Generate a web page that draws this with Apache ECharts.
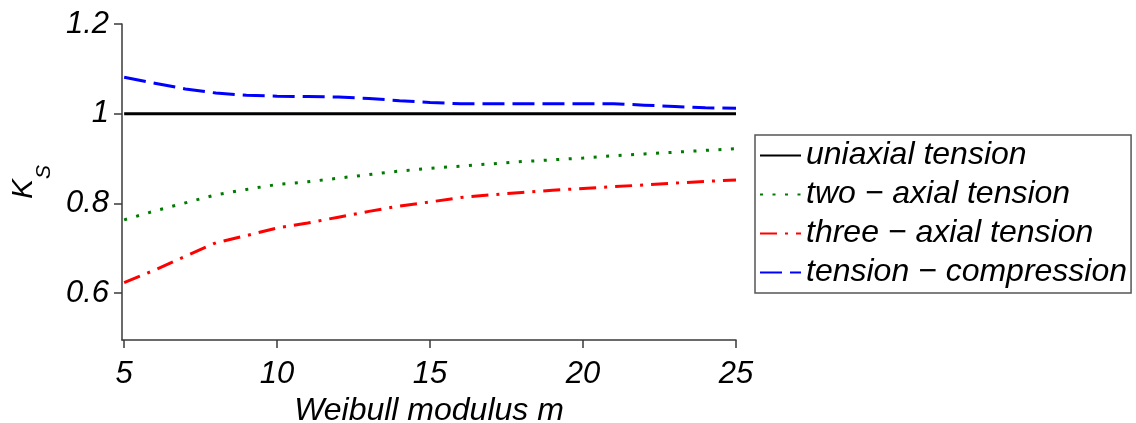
<!DOCTYPE html>
<html>
<head>
<meta charset="utf-8">
<script src="https://cdn.jsdelivr.net/npm/echarts@6/dist/echarts.min.js"></script>
<style>
    html, body { margin: 0; padding: 0; background: #fff; }
    #main { width: 1136px; height: 423px; }
</style>
</head>
<body>
<div id="main"></div>
<script>
// Weibull modulus m
const mValues = [5, 6, 7, 8, 9, 10, 11, 12, 13, 14, 15, 16, 17, 18, 19, 20, 21, 22, 23, 24, 25];

// K_s for each loading case
const uniaxial = [1, 1, 1, 1, 1, 1, 1, 1, 1, 1, 1, 1, 1, 1, 1, 1, 1, 1, 1, 1, 1];
const twoAxial = [0.763, 0.783, 0.801, 0.819, 0.831, 0.842, 0.848, 0.856, 0.864, 0.872, 0.878,
    0.883, 0.888, 0.893, 0.897, 0.901, 0.906, 0.910, 0.914, 0.918, 0.922];
const threeAxial = [0.623, 0.651, 0.682, 0.712, 0.728, 0.745, 0.756, 0.769, 0.782, 0.794, 0.803,
    0.813, 0.819, 0.824, 0.829, 0.833, 0.837, 0.841, 0.845, 0.849, 0.852];
const tensionCompression = [1.081, 1.068, 1.055, 1.046, 1.041, 1.039, 1.038, 1.037, 1.034, 1.029, 1.025,
    1.022, 1.022, 1.022, 1.022, 1.022, 1.022, 1.019, 1.016, 1.013, 1.012];

const seriesNames = ['uniaxial tension', 'two \u2212 axial tension', 'three \u2212 axial tension', 'tension \u2212 compression'];

// tick labels
const xTicks = [5, 10, 15, 20, 25];
const yTicks = [0.6, 0.8, 1, 1.2];

const pairs = (ys) => mValues.map((m, i) => [m, ys[i]]);

const font = 'Liberation Sans, Arial, sans-serif';
const axisColor = '#3a3a3a';

var chartDom = document.getElementById('main');
var myChart = echarts.init(chartDom);

var option = {
    animation: false,
    backgroundColor: '#fff',
    grid: {
        left: 122,
        right: 400,
        top: 24,
        bottom: 83,
        outerBoundsMode: 'none'
    },
    legend: {
        orient: 'vertical',
        left: 755,
        top: 135,
        padding: [1, 4, 1, 4],
        itemGap: 0,
        itemWidth: 41,
        itemHeight: 14,
        borderColor: '#555',
        borderWidth: 1.5,
        borderRadius: 0,
        data: seriesNames,
        itemStyle: { opacity: 0 },
        textStyle: {
            fontFamily: font,
            fontStyle: 'italic',
            fontSize: 32,
            lineHeight: 39,
            color: '#000'
        }
    },
    xAxis: {
        type: 'value',
        min: 4.93,
        max: 25,
        name: 'Weibull modulus m',
        nameLocation: 'middle',
        nameGap: 53,
        nameTextStyle: {
            fontFamily: font,
            fontStyle: 'italic',
            fontSize: 32,
            color: '#000'
        },
        axisLine: { lineStyle: { color: axisColor, width: 1.5 } },
        axisTick: { customValues: xTicks, length: 8, lineStyle: { color: axisColor, width: 1.5 } },
        axisLabel: {
            customValues: xTicks,
            margin: 19,
            fontFamily: font,
            fontStyle: 'italic',
            fontSize: 31,
            color: '#000'
        },
        splitLine: { show: false }
    },
    yAxis: {
        type: 'value',
        min: 0.495,
        max: 1.2,
        name: '{k|K}{s|S}',
        nameLocation: 'middle',
        nameRotate: 90,
        nameGap: 41,
        nameTextStyle: {
            fontFamily: font,
            color: '#000',
            rich: {
                k: { fontFamily: font, fontStyle: 'italic', fontSize: 30, lineHeight: 30, verticalAlign: 'top', color: '#000' },
                s: { fontFamily: font, fontStyle: 'italic', fontSize: 21, lineHeight: 72, color: '#000' }
            }
        },
        axisLine: { show: true, lineStyle: { color: axisColor, width: 1.5 } },
        axisTick: { show: true, customValues: yTicks, length: 8, lineStyle: { color: axisColor, width: 1.5 } },
        axisLabel: {
            customValues: yTicks,
            margin: 13,
            fontFamily: font,
            fontStyle: 'italic',
            fontSize: 31,
            color: '#000'
        },
        splitLine: { show: false }
    },
    series: [
        {
            name: seriesNames[0],
            type: 'line',
            symbol: 'none',
            data: pairs(uniaxial),
            lineStyle: { color: '#000', width: 3 },
            itemStyle: { color: '#000' }
        },
        {
            name: seriesNames[1],
            type: 'line',
            symbol: 'none',
            data: pairs(twoAxial),
            lineStyle: { color: '#007a00', width: 3, type: [3, 9.5] },
            itemStyle: { color: '#007a00' }
        },
        {
            name: seriesNames[2],
            type: 'line',
            symbol: 'none',
            data: pairs(threeAxial),
            lineStyle: { color: '#ff0000', width: 3, type: [17, 8, 3, 8] },
            itemStyle: { color: '#ff0000' }
        },
        {
            name: seriesNames[3],
            type: 'line',
            symbol: 'none',
            data: pairs(tensionCompression),
            lineStyle: { color: '#0000ff', width: 3, type: [22, 8] },
            itemStyle: { color: '#0000ff' }
        }
    ]
};

myChart.setOption(option);
</script>
</body>
</html>
